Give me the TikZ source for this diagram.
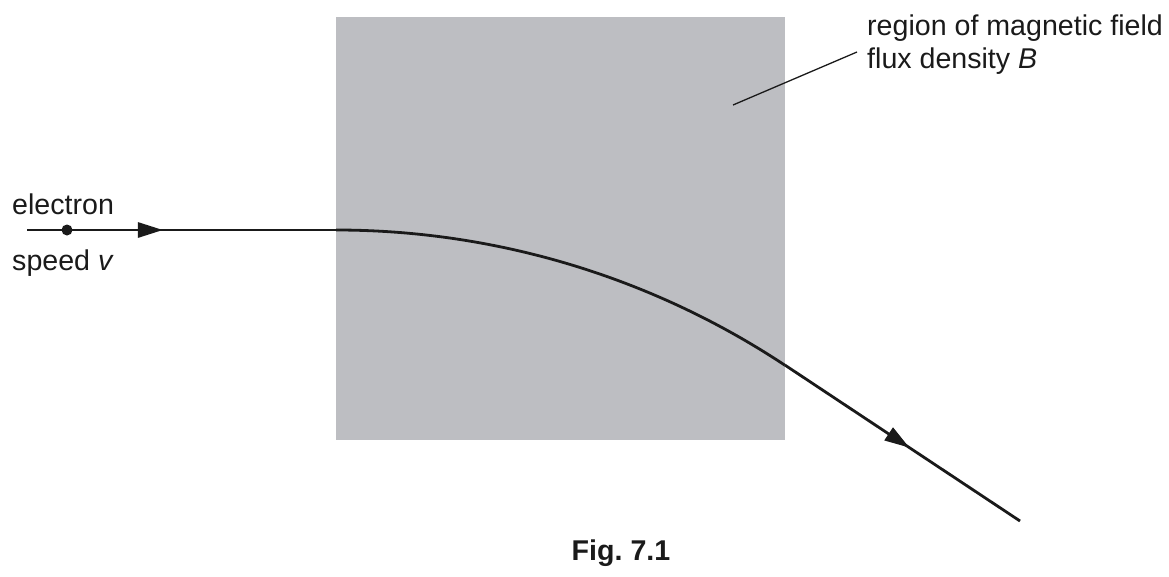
\documentclass[tikz,border=0pt]{standalone}
\usepackage{fontspec}
\setmainfont{Liberation Sans}
\usetikzlibrary{arrows.meta,decorations.markings}
\definecolor{fieldgray}{HTML}{BDBEC2}
\definecolor{ink}{HTML}{1A1A1A}
\begin{document}
\frenchspacing
\begin{tikzpicture}[x=1pt,y=-1pt,
  lbl/.style={inner sep=0pt, font=\fontsize{28.6}{33}\selectfont, text=ink},
  pathline/.style={draw=ink, line width=2.8pt},
  midarrow/.style={postaction={decorate}, decoration={markings,
     mark=at position #1 with {\arrow{Triangle[length=25pt,width=15pt]}}}},
  leader/.style={draw=ink, line width=1.3pt}]
\useasboundingbox (0,0) rectangle (1169,576);
% field region
\fill[fieldgray] (336,17) rectangle (785,440);
% path coordinates
\coordinate (start) at (27,230);
\coordinate (enter) at (336,230);
\coordinate (exit) at (784.8,365);
\coordinate (finish) at (1020,521);
\coordinate (leadend) at (733,105);
\coordinate (leadstart) at (857,52);
% incoming straight path
\draw[pathline, fill=ink, midarrow=0.44] (start) -- (enter);
% curved path in field
\draw[pathline] (enter) arc[start angle=-90, end angle=-56.5, radius=813];
% outgoing path
\draw[pathline, fill=ink, midarrow=0.53] (exit) -- (finish);
% electron dot
\fill[ink] (67,230) circle[radius=5.5];
% labels
\node[lbl, anchor=base west] (electron) at (12,214) {electron};
\node[lbl, anchor=base west] (speed) at (12,270) {speed \textit{v}};
\node[lbl, anchor=base west] (regiontxt) at (867,35) {region of magnetic field};
\node[lbl, anchor=base west] (fluxtxt) at (867,68) {flux density \textit{B}};
\draw[leader] (leadstart) -- (leadend);
\node[lbl, anchor=base, font=\fontsize{28.6}{33}\selectfont\bfseries] (fig) at (621,560) {Fig. 7.1};
\end{tikzpicture}
\end{document}
